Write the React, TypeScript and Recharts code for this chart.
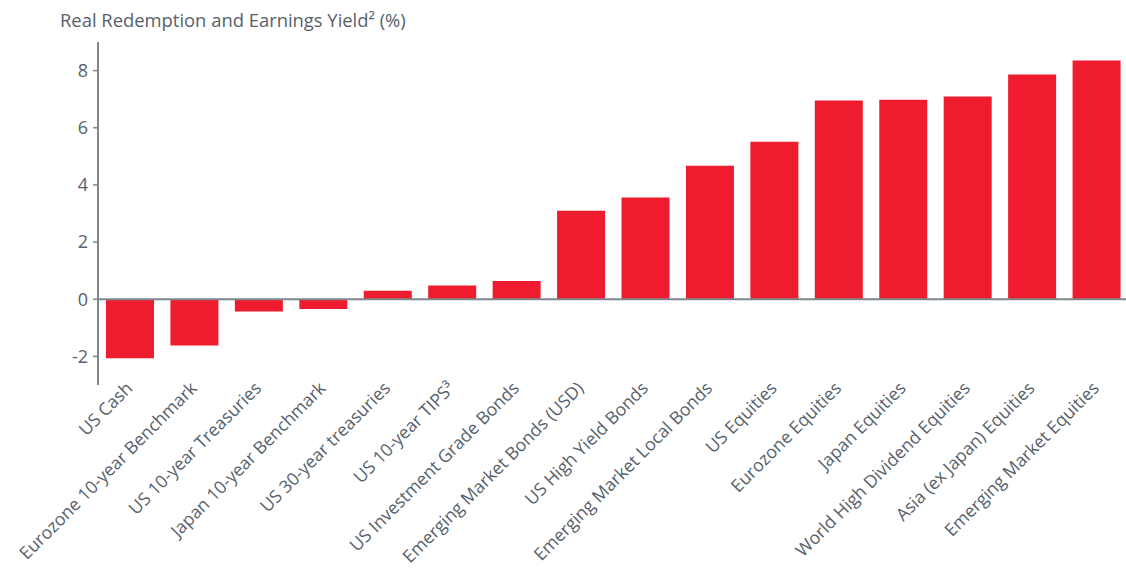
import { Bar, BarChart, ReferenceLine, XAxis, YAxis } from 'recharts';

// Real redemption / earnings yields by asset class (%)
const CATEGORIES = [
  'US Cash',
  'Eurozone 10-year Benchmark',
  'US 10-year Treasuries',
  'Japan 10-year Benchmark',
  'US 30-year treasuries',
  'US 10-year TIPS³',
  'US Investment Grade Bonds',
  'Emerging Market Bonds (USD)',
  'US High Yield Bonds',
  'Emerging Market Local Bonds',
  'US Equities',
  'Eurozone Equities',
  'Japan Equities',
  'World High Dividend Equities',
  'Asia (ex Japan) Equities',
  'Emerging Market Equities',
];
const YIELDS = [-2.06, -1.62, -0.43, -0.34, 0.3, 0.48, 0.64, 3.1, 3.56, 4.67, 5.51, 6.95, 6.98, 7.09, 7.86, 8.35];
const Y_TICKS = [-2, 0, 2, 4, 6, 8];

const RED = '#EE1C2E';
const AXIS = '#7E878D';
const TEXT = '#56616B';
const FONT = '"Open Sans", "Noto Sans", sans-serif';

const data = CATEGORIES.map((name, i) => ({ name, value: YIELDS[i] }));

function CategoryTick({ x, y, payload }: any) {
  return (
    <g transform={`translate(${x - 1},${y - 8})`}>
      <text
        x={0}
        y={0}
        dy="0.35em"
        textAnchor="end"
        transform="rotate(-45)"
        fill={TEXT}
        fontSize={17.6}
        fontFamily={FONT}
      >
        {payload.value}
      </text>
    </g>
  );
}

export default function App() {
  return (
    <div style={{ position: 'absolute', left: 0, top: 0, width: 1126, height: 570, overflow: 'hidden', background: '#fff' }}>
      <div
        style={{
          position: 'absolute',
          left: 60,
          top: 7,
          fontFamily: FONT,
          fontSize: 18.4,
          color: TEXT,
          whiteSpace: 'nowrap',
        }}
      >
        Real Redemption and Earnings Yield² (%)
      </div>
      <BarChart
        width={1129}
        height={570}
        data={data}
        margin={{ top: 42, right: 0, bottom: 0, left: 0 }}
        barSize={48}
      >
        <XAxis
          dataKey="name"
          axisLine={false}
          tickLine={false}
          interval={0}
          height={185}
          tick={<CategoryTick />}
        />
        <YAxis
          domain={[-3, 9]}
          ticks={Y_TICKS}
          width={98}
          axisLine={{ stroke: AXIS, strokeWidth: 2 }}
          tickLine={{ stroke: AXIS, strokeWidth: 1.5 }}
          tickSize={5}
          tickMargin={5}
          tick={{ fill: TEXT, fontSize: 18, fontFamily: FONT }}
        />
        <ReferenceLine y={0} stroke={AXIS} strokeWidth={2} />
        <Bar dataKey="value" fill={RED} isAnimationActive={false} />
      </BarChart>
    </div>
  );
}
